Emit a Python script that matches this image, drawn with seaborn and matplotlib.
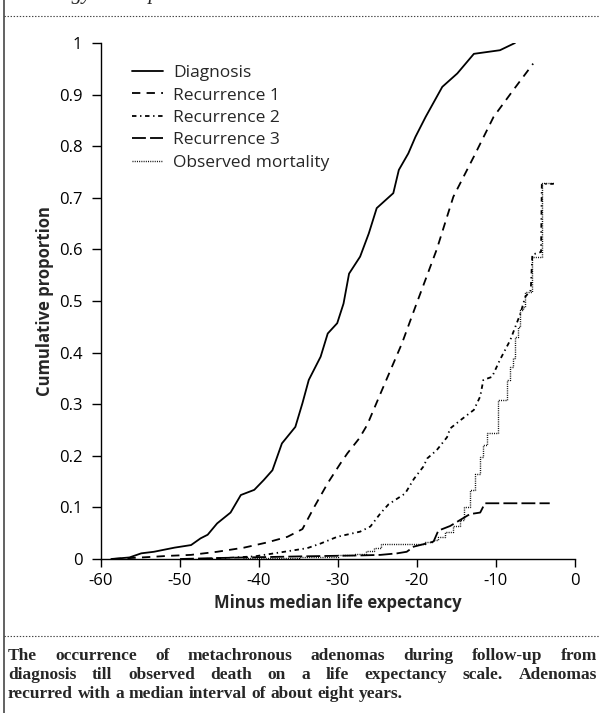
import matplotlib
matplotlib.use("Agg")
import matplotlib.pyplot as plt
import seaborn as sns
import pandas as pd
from matplotlib.lines import Line2D

# ---------------- data ----------------
diag_x = [-58.7, -56.4, -54.9, -53.3, -50.7, -48.6, -47.4, -46.5, -45.3, -43.6, -42.3, -40.6,
          -39.4, -38.3, -37.1, -35.4, -34.5, -33.7, -32.2, -31.3, -30.1, -29.3, -28.6, -27.2,
          -26.1, -25.1, -23.0, -22.3, -21.1, -20.2, -18.9, -16.8, -14.9, -12.8, -9.5, -7.6]
diag_y = [0.0, 0.003, 0.011, 0.014, 0.022, 0.027, 0.040, 0.047, 0.069, 0.090, 0.124, 0.134,
          0.153, 0.172, 0.224, 0.256, 0.302, 0.347, 0.392, 0.437, 0.457, 0.495, 0.553, 0.586,
          0.631, 0.680, 0.709, 0.754, 0.786, 0.818, 0.857, 0.915, 0.941, 0.979, 0.986, 1.0]

rec1_x = [-58.5, -53.7, -51.6, -48.6, -45.3, -41.9, -39.0, -36.4, -34.5, -33.0, -31.3, -29.7,
          -28.8, -27.3, -26.3, -24.5, -21.9, -20.2, -17.5, -15.4, -12.8, -10.3, -7.8, -5.3]
rec1_y = [0.0, 0.004, 0.006, 0.008, 0.014, 0.022, 0.032, 0.043, 0.058, 0.101, 0.147, 0.185,
          0.205, 0.234, 0.260, 0.325, 0.418, 0.489, 0.600, 0.702, 0.780, 0.857, 0.909, 0.960]

rec2_x = [-47.0, -40.6, -36.8, -33.9, -32.2, -30.1, -27.2, -25.9, -24.6, -23.6, -21.5, -20.4,
          -19.2, -18.7, -17.5, -16.2, -15.8, -14.5, -12.8, -12.0, -11.6, -10.5, -9.5, -8.2,
          -6.9, -6.3, -5.6, -5.4, -4.3, -4.2, -2.7]
rec2_y = [0.0, 0.005, 0.014, 0.021, 0.030, 0.043, 0.053, 0.063, 0.089, 0.106, 0.127, 0.155,
          0.179, 0.195, 0.211, 0.236, 0.253, 0.269, 0.289, 0.315, 0.347, 0.353, 0.386, 0.424,
          0.476, 0.508, 0.521, 0.590, 0.595, 0.727, 0.727]

rec3_x = [-50.0, -45.0, -35.0, -27.0, -24.6, -22.5, -21.3, -20.4, -18.3, -17.9, -17.3, -15.8,
          -14.5, -13.3, -12.0, -11.4, -3.2]
rec3_y = [0.0, 0.002, 0.005, 0.007, 0.008, 0.011, 0.014, 0.024, 0.032, 0.034, 0.055, 0.064,
          0.076, 0.087, 0.090, 0.108, 0.108]

mort_x = [-42.0, -35.0, -30.0, -28.0, -26.5, -25.5, -24.5, -19.0, -18.0, -17.3, -16.5, -15.5,
          -14.5, -14.0, -13.3, -12.7, -12.0, -11.6, -11.2, -9.7, -8.6, -8.2, -7.9, -7.6,
          -7.2, -6.9, -6.6, -6.3, -5.4, -4.2, -2.7]
mort_y = [0.002, 0.004, 0.007, 0.010, 0.015, 0.022, 0.030, 0.032, 0.036, 0.043, 0.052, 0.063,
          0.076, 0.100, 0.134, 0.165, 0.198, 0.220, 0.245, 0.308, 0.347, 0.372, 0.390, 0.431,
          0.450, 0.483, 0.489, 0.518, 0.586, 0.729, 0.729]

series_labels = ["Diagnosis", "Recurrence 1", "Recurrence 2", "Recurrence 3", "Observed mortality"]
x_ticks = [-60, -50, -40, -30, -20, -10, 0]
y_ticks = [0, 0.1, 0.2, 0.3, 0.4, 0.5, 0.6, 0.7, 0.8, 0.9, 1]
y_tick_labels = ["0", "0.1", "0.2", "0.3", "0.4", "0.5", "0.6", "0.7", "0.8", "0.9", "1"]
x_label = "Minus median life expectancy"
y_label = "Cumulative proportion"
caption_lines = [
    "The occurrence of metachronous adenomas during follow-up from",
    "diagnosis till observed death on a life expectancy scale. Adenomas",
    "recurred with a median interval of about eight years.",
]
header_words = ["Oncology", "Group"]

# ---------------- style ----------------
sns.set_style("ticks")
plt.rcParams["font.family"] = ["Open Sans", "DejaVu Sans"]
plt.rcParams["lines.scale_dashes"] = False

W, H = 600, 713
fig = plt.figure(figsize=(W / 100, H / 100), dpi=100)
ax_left, ax_right, ax_top, ax_bot = 101, 575, 43, 559
ax = fig.add_axes([ax_left / W, 1 - ax_bot / H, (ax_right - ax_left) / W, (ax_bot - ax_top) / H])

styles = [
    dict(linestyle="-", lw=1.3),
    dict(linestyle=(0, (6.0, 4.5)), lw=1.3),
    dict(linestyle=(0, (3.2, 2.6, 1.0, 2.6)), lw=1.3),
    dict(linestyle=(0, (10.0, 3.0)), lw=1.3),
    dict(linestyle=(0, (0.7, 0.9)), lw=1.0),
]
data = [(diag_x, diag_y), (rec1_x, rec1_y), (rec2_x, rec2_y), (rec3_x, rec3_y), (mort_x, mort_y)]
for (xs, ys), lab, st in zip(data, series_labels, styles):
    df = pd.DataFrame({"x": xs, "y": ys})
    extra = {"drawstyle": "steps-post"} if lab == "Observed mortality" else {}
    sns.lineplot(data=df, x="x", y="y", ax=ax, color="black", label=lab,
                 estimator=None, sort=False, **st, **extra)

ax.set_xlim(-60, 0)
ax.set_ylim(0, 1)
ax.set_xticks(x_ticks)
ax.set_xticklabels([str(t) for t in x_ticks])
ax.set_yticks(y_ticks)
ax.set_yticklabels(y_tick_labels)
ax.tick_params(axis="both", labelsize=12, colors="black", width=1.0)
ax.tick_params(axis="x", length=6, pad=4)
ax.tick_params(axis="y", length=6.5, pad=7)
for s in ["top", "right"]:
    ax.spines[s].set_visible(False)
for s in ["left", "bottom"]:
    ax.spines[s].set_color("black")
    ax.spines[s].set_linewidth(1.0)
ax.set_xlabel(x_label, fontsize=12, fontweight="bold", labelpad=4)
ax.set_ylabel(y_label, fontsize=12, fontweight="bold", labelpad=3)

leg = ax.legend(loc="upper left", bbox_to_anchor=((132 - ax_left) / (ax_right - ax_left),
                (ax_bot - 65) / (ax_bot - ax_top)), frameon=False, fontsize=12.5,
                handlelength=1.8, handletextpad=0.55, labelspacing=0.36, borderpad=0,
                borderaxespad=0)

# ---------------- frame decorations ----------------
fig.add_artist(Line2D([4 / W, 4 / W], [0, 1], transform=fig.transFigure, color="#555555", lw=1.3))
for yy in [16, 636]:
    fig.add_artist(Line2D([4 / W, 1], [1 - yy / H, 1 - yy / H], transform=fig.transFigure,
                          color="#444444", lw=0.8, linestyle=(0, (1.0, 1.2))))

fig.canvas.draw()
rend = fig.canvas.get_renderer()

# header (only descenders visible, cut off at the top as in the reference)
hdr_font = dict(family=["Liberation Serif"], style="italic", size=15)
hx_right = [92, 160]
for w, xr in zip(header_words, hx_right):
    fig.text(xr / W, 1 - (-1) / H, w, ha="right", va="baseline", **hdr_font)

# caption, justified
cap_font = dict(family=["Liberation Serif", "DejaVu Serif"], weight="bold", size=12.5)
x0, x1 = 8, 597
baselines = [660, 679, 698]
for i, (line, yb) in enumerate(zip(caption_lines, baselines)):
    words = line.split()
    texts = [fig.text(0, 1 - yb / H, w, va="baseline", ha="left", **cap_font) for w in words]
    widths = [t.get_window_extent(rend).width for t in texts]
    if i < len(caption_lines) - 1:
        gap = (x1 - x0 - sum(widths)) / (len(words) - 1)
    else:
        gap = 0.27 * cap_font["size"] * 100 / 72
    x = x0
    for t, wd in zip(texts, widths):
        t.set_position((x / W, 1 - yb / H))
        x += wd + gap

fig.savefig("out.png", dpi=100)
